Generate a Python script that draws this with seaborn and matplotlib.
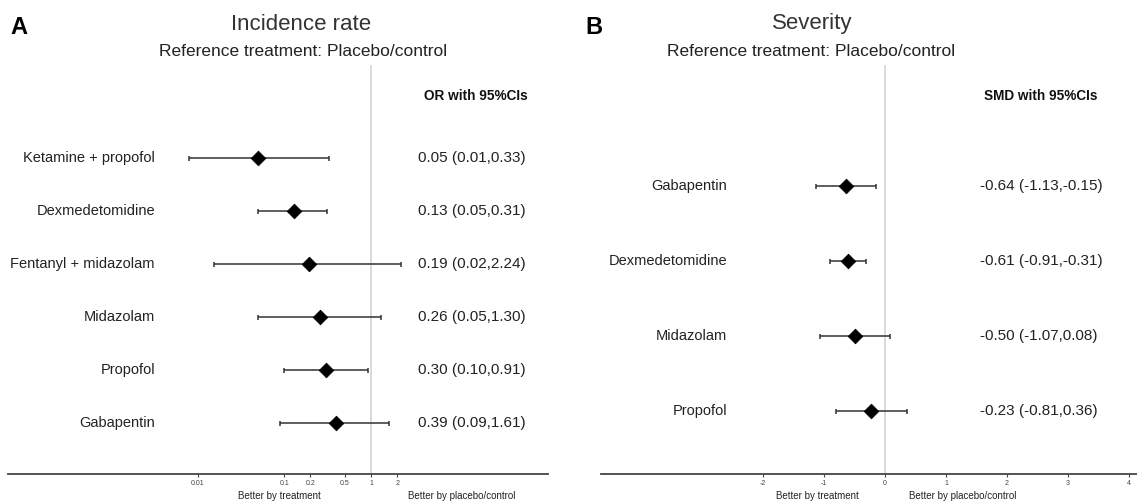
import matplotlib
matplotlib.use('Agg')

import matplotlib.pyplot as plt
import seaborn as sns
import pandas as pd

# panel A: incidence rate (odds ratios)
inc_names = ["Ketamine + propofol", "Dexmedetomidine", "Fentanyl + midazolam",
             "Midazolam", "Propofol", "Gabapentin"]
inc_or = [0.05, 0.13, 0.19, 0.26, 0.30, 0.39]
inc_lo = [0.008, 0.05, 0.0155, 0.05, 0.10, 0.09]
inc_hi = [0.33, 0.31, 2.24, 1.30, 0.91, 1.61]
inc_text = ["0.05 (0.01,0.33)", "0.13 (0.05,0.31)", "0.19 (0.02,2.24)",
            "0.26 (0.05,1.30)", "0.30 (0.10,0.91)", "0.39 (0.09,1.61)"]
inc_ticks = [0.01, 0.1, 0.2, 0.5, 1, 2]
inc_ticklabels = ["0.01", "0.1", "0.2", "0.5", "1", "2"]

# panel B: severity (standardised mean differences)
sev_names = ["Gabapentin", "Dexmedetomidine", "Midazolam", "Propofol"]
sev_smd = [-0.64, -0.61, -0.50, -0.23]
sev_lo = [-1.13, -0.91, -1.07, -0.81]
sev_hi = [-0.15, -0.31, 0.08, 0.36]
sev_text = ["-0.64 (-1.13,-0.15)", "-0.61 (-0.91,-0.31)",
            "-0.50 (-1.07,0.08)", "-0.23 (-0.81,0.36)"]
sev_ticks = [-2, -1, 0, 1, 2, 3, 4]
sev_ticklabels = ["-2", "-1", "0", "1", "2", "3", "4"]

sns.set_style("white")
plt.rcParams['font.family'] = ['Liberation Sans', 'DejaVu Sans']

W, H = 1137, 504
fig = plt.figure(figsize=(W / 100, H / 100), dpi=100)

ax1 = fig.add_axes([8 / W, 30 / H, 540 / W, 409 / H])
ax2 = fig.add_axes([601 / W, 30 / H, 536 / W, 409 / H])

line_col = "#333333"


def forest(ax, names, est, lo, hi, labels, header, ref, ticks, ticklabels,
           name_x, val_x, head_x, better_x):
    df = pd.DataFrame({"name": names, "est": est, "lo": lo, "hi": hi,
                       "row": range(len(names))})
    err = [df["est"] - df["lo"], df["hi"] - df["est"]]
    ax.errorbar(df["est"], df["row"], xerr=err, fmt="none", ecolor=line_col,
                elinewidth=1.1, capsize=1.8, capthick=1.1, zorder=2)
    sns.scatterplot(data=df, x="est", y="row", marker="D", color="black",
                    s=55, edgecolor="black", ax=ax, zorder=3, legend=False)
    ax.axvline(ref, color="#d4d4d4", lw=1.2, zorder=1)

    tr = ax.get_yaxis_transform()
    for i, (n, t) in enumerate(zip(names, labels)):
        ax.text(name_x, i, n, transform=tr, ha="right", va="center",
                fontsize=10.5, color="#222222")
        ax.text(val_x, i, t, transform=tr, ha="left", va="center",
                fontsize=11, color="#222222")
    ax.text(head_x, 0.924, header, transform=ax.transAxes, ha="center",
            va="center", fontsize=9.8, fontweight="bold", color="#111111")
    ax.text(better_x[0], -0.054, "Better by treatment", transform=ax.transAxes,
            ha="center", va="center", fontsize=7, color="#222222")
    ax.text(better_x[1], -0.054, "Better by placebo/control",
            transform=ax.transAxes, ha="center", va="center", fontsize=7,
            color="#222222")

    ax.set_xticks(ticks)
    ax.set_xticklabels(ticklabels)
    ax.tick_params(axis="x", labelsize=5, length=2.5, width=0.8,
                   colors="#444444", pad=2, bottom=True)
    ax.set_yticks([])
    ax.set_xlabel("")
    ax.set_ylabel("")
    for s in ["top", "left", "right"]:
        ax.spines[s].set_visible(False)
    ax.spines["bottom"].set_color("#444444")
    ax.spines["bottom"].set_linewidth(1.3)


forest(ax1, inc_names, inc_or, inc_lo, inc_hi, inc_text, "OR with 95%CIs",
       1, inc_ticks, inc_ticklabels, 0.272, 0.76, 0.866, (0.502, 0.841))
ax1.set_xscale("log")
ax1.set_xticks(inc_ticks)
ax1.set_xticklabels(inc_ticklabels)
ax1.minorticks_off()
ax1.set_xlim(10 ** -4.187, 10 ** 2.04)
ax1.set_ylim((474 - 158) / 53, (65 - 158) / 53)

forest(ax2, sev_names, sev_smd, sev_lo, sev_hi, sev_text, "SMD with 95%CIs",
       0, sev_ticks, sev_ticklabels, 0.235, 0.707, 0.82, (0.403, 0.674))
ax2.set_xlim(-4.656, 4.13)
ax2.set_ylim((474 - 186) / 75, (65 - 186) / 75)

# titles and panel letters
fig.text(19 / W, 1 - 28 / H, "A", fontsize=17, fontweight="bold", ha="center",
         va="center", color="black")
fig.text(594 / W, 1 - 28 / H, "B", fontsize=17, fontweight="bold", ha="center",
         va="center", color="black")
fig.text(301 / W, 1 - 24 / H, "Incidence rate", fontsize=16, ha="center",
         va="center", color="#333333")
fig.text(303 / W, 1 - 52 / H, "Reference treatment: Placebo/control",
         fontsize=12.5, ha="center", va="center", color="#222222")
fig.text(812 / W, 1 - 24 / H, "Severity", fontsize=16, ha="center",
         va="center", color="#333333")
fig.text(811 / W, 1 - 52 / H, "Reference treatment: Placebo/control",
         fontsize=12.5, ha="center", va="center", color="#222222")

fig.savefig("out.png", dpi=100, facecolor="white")
plt.close(fig)
